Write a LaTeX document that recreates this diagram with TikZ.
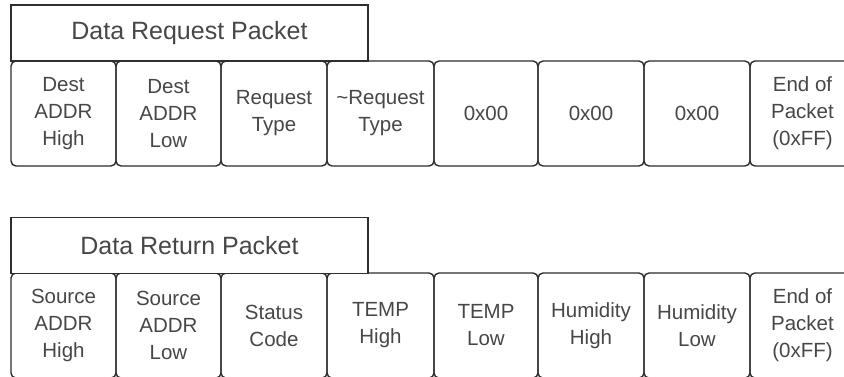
\documentclass[tikz,border=0pt]{standalone}
\usepackage{fontspec}
\setmainfont{Liberation Sans}
\definecolor{linec}{HTML}{2E2E2E}
\definecolor{textc}{HTML}{474747}
\tikzset{
  titlebox/.style={draw=linec, line width=1.4pt, fill=white, inner sep=0pt,
    minimum height=56pt, text=textc, font=\fontsize{25}{30}\selectfont},
  cellbox/.style={draw=linec, line width=1.4pt, rounded corners=5pt, inner sep=0pt,
    minimum height=105pt, align=center, text=textc, font=\fontsize{20.5}{27}\selectfont},
}
\begin{document}
\begin{tikzpicture}[x=1pt,y=-1pt]
\useasboundingbox[fill=white] (0,0) rectangle (844,377);
\clip (0,0) rectangle (844,377);
% Row 1
\foreach \l/\r/\t [count=\i] in {11/116/{Dest\\ADDR\\High},116/221/{Dest\\ADDR\\Low},221/327/{Request\\Type},327/434/{\textasciitilde Request\\Type},434/538/{0x00},538/644/{0x00},644/750/{0x00},750/855/{End of\\Packet\\(0xFF)}}
  \node[cellbox, minimum width={\r-\l}] (a\i) at ({(\l+\r)/2},113.5) {\t};
\node[titlebox, minimum width=357pt] (t1) at (189.5,33) {Data Request Packet};
% Row 2
\foreach \l/\r/\t [count=\i] in {11/116/{Source\\ADDR\\High},116/221/{Source\\ADDR\\Low},221/327/{Status\\Code},327/434/{TEMP\\High},434/538/{TEMP\\Low},538/644/{Humidity\\High},644/750/{Humidity\\Low},750/855/{End of\\Packet\\(0xFF)}}
  \node[cellbox, minimum width={\r-\l}] (b\i) at ({(\l+\r)/2},325.5) {\t};
\node[titlebox, minimum width=357pt] (t2) at (189.5,245.5) {Data Return Packet};
\end{tikzpicture}
\end{document}
